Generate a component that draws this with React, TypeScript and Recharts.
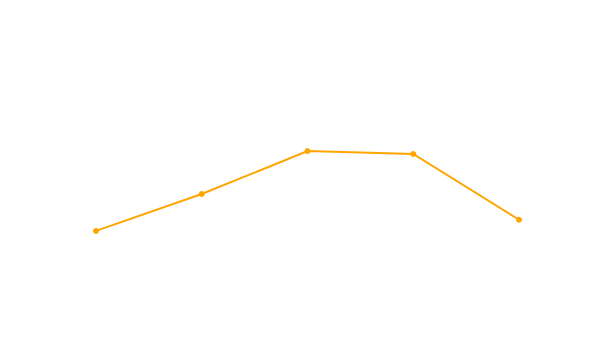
import React from "react";
import { LineChart, Line, XAxis, YAxis } from "recharts";

const CATEGORIES = ["A", "B", "C", "D", "E"];
const VALUES = [30.8, 45, 61.5, 60.4, 35.1];

const LINE_COLOR = "#FFA500";

export default function App() {
  const data = CATEGORIES.map((name, i) => ({ name, value: VALUES[i] }));

  return (
    <div style={{ width: 592, height: 344 }}>
      <LineChart
        width={592}
        height={344}
        data={data}
        margin={{ top: 43, right: 81, bottom: 41, left: 88 }}
      >
        <XAxis dataKey="name" hide />
        <YAxis domain={[0, 100]} hide />
        <Line
          type="linear"
          dataKey="value"
          stroke={LINE_COLOR}
          strokeWidth={2}
          dot={{ r: 2.5, fill: LINE_COLOR, stroke: LINE_COLOR, strokeWidth: 1 }}
          isAnimationActive={false}
        />
      </LineChart>
    </div>
  );
}
